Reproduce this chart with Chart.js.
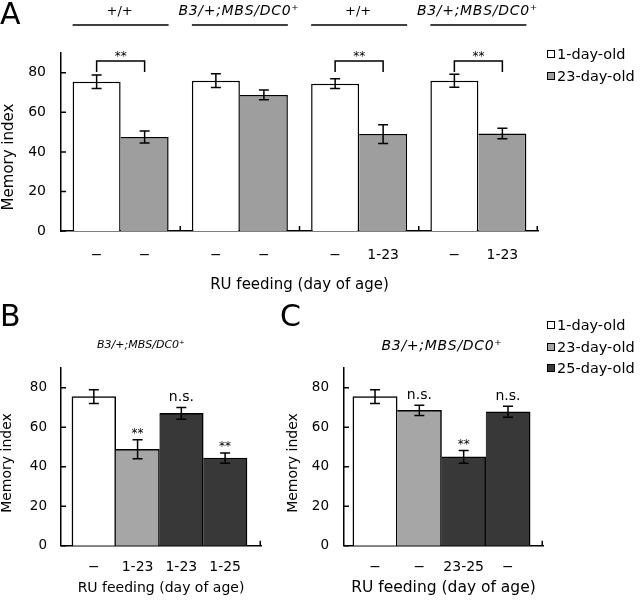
<!DOCTYPE html>
<html>
<head>
<meta charset="utf-8">
<script src="https://cdn.jsdelivr.net/npm/chart.js@4.4.1/dist/chart.umd.min.js"></script>
<style>
  body { margin: 0; background: #fff; }
  #page { position: relative; width: 640px; height: 605px; font-family: 'DejaVu Sans', sans-serif; color: #000; overflow: hidden; }
  canvas { position: absolute; }
  .txt { position: absolute; white-space: nowrap; }
  .letter { font-size: 30px; line-height: 30px; }
  .ytitle { width: 200px; text-align: center; line-height: 18px; transform: rotate(-90deg); }
  .geno { width: 200px; text-align: center; font-style: italic; }
  .row { position: absolute; display: flex; align-items: center; font-size: 14.5px; line-height: 20px; white-space: nowrap; }
  .box { width: 8px; height: 8px; border: 1.5px solid #000; box-sizing: border-box; margin-right: 2px; }
</style>
</head>
<body>
<div id="page">
  <canvas id="cA" width="640" height="300" style="left:0;top:0"></canvas>
  <canvas id="cB" width="290" height="305" style="left:0;top:300px"></canvas>
  <canvas id="cC" width="360" height="305" style="left:280px;top:300px"></canvas>

  <div class="txt letter" style="left:0;top:-1px">A</div>
  <div class="txt letter" style="left:0;top:301px">B</div>
  <div class="txt letter" style="left:280px;top:301px">C</div>

  <div class="txt ytitle" style="left:-92px;top:148px;font-size:15px">Memory index</div>
  <div class="txt ytitle" style="left:-94px;top:454px;font-size:14px">Memory index</div>
  <div class="txt ytitle" style="left:192px;top:454px;font-size:14px">Memory index</div>

  <div class="txt geno" style="left:41px;top:338px;font-size:11px;line-height:14px">B3/+;MBS/DC0⁺</div>
  <div class="txt geno" style="left:342px;top:336px;font-size:14px;line-height:18px;letter-spacing:0.7px">B3/+;MBS/DC0⁺</div>

  <div id="legA"></div>
  <div id="legC"></div>
</div>
<script>
// Panel A: four genotype / feeding groups, 1-day-old vs 23-day-old
const groupNamesA = ['+/+', 'B3/+;MBS/DC0⁺', '+/+', 'B3/+;MBS/DC0⁺'];
const feedingYoungA = ['−', '−', '−', '−'];
const feedingOldA = ['−', '−', '1-23', '1-23'];
const youngA = [75.5, 76, 74.5, 76];
const youngErrA = [3.4, 3.5, 2.5, 3.3];
const oldA = [47.5, 68.8, 49, 49.3];
const oldErrA = [3, 2.5, 4.7, 2.6];
const sigA = ['**', '', '**', '**'];

// Panel B
const feedingB = ['−', '1-23', '1-23', '1-25'];
const meanB = [75.5, 48.8, 67, 44.4];
const errB = [3.5, 4.8, 3, 2.6];
const ageB = [0, 1, 2, 2];
const markB = ['', '**', 'n.s.', '**'];

// Panel C
const feedingC = ['−', '−', '23-25', '−'];
const meanC = [75.5, 68.5, 45, 67.8];
const errC = [3.5, 2.6, 3.2, 2.8];
const ageC = [0, 1, 2, 2];
const markC = ['', 'n.s.', '**', 'n.s.'];

const ageNames = ['1-day-old', '23-day-old', '25-day-old'];

const colorsA = ['#ffffff', '#9e9e9e'];
const colorsBC = ['#ffffff', '#a6a6a6', '#383838'];

Chart.defaults.font.family = "'DejaVu Sans', sans-serif";
Chart.defaults.color = '#000';
Chart.defaults.animation = false;

// error bars, significance marks, inward ticks, group headers
const deco = {
	id: 'deco',
	afterDatasetsDraw(chart, args, opts) {
		const ctx = chart.ctx;
		const area = chart.chartArea;
		const y = chart.scales.y;
		const x = chart.scales.x;
		ctx.save();
		ctx.strokeStyle = '#000';
		ctx.fillStyle = '#000';
		ctx.lineWidth = 1.5;

		chart.data.datasets.forEach((ds, di) => {
			const meta = chart.getDatasetMeta(di);
			meta.data.forEach((bar, i) => {
				const val = meta.controller.getParsed(i).y;
				const e = ds.errors[i];
				const top = y.getPixelForValue(val + e);
				const bot = y.getPixelForValue(val - e);
				ctx.beginPath();
				ctx.moveTo(bar.x, top); ctx.lineTo(bar.x, bot);
				ctx.moveTo(bar.x - 5, top); ctx.lineTo(bar.x + 5, top);
				ctx.moveTo(bar.x - 5, bot); ctx.lineTo(bar.x + 5, bot);
				ctx.stroke();
				if (ds.marks && ds.marks[i]) {
					const m = ds.marks[i];
					ctx.font = (m == '**' ? '12px' : '14px') + " 'DejaVu Sans'";
					ctx.textAlign = 'center';
					ctx.textBaseline = 'alphabetic';
					ctx.fillText(m, bar.x, top - (m == '**' ? 3 : 6));
				}
				if (ds.feeding) {
					ctx.font = "14px 'DejaVu Sans'";
					ctx.textAlign = 'center';
					ctx.textBaseline = 'middle';
					ctx.fillText(ds.feeding[i], bar.x, area.bottom + 24);
				}
			});
		});

		// ticks pointing into the plot
		ctx.beginPath();
		y.ticks.forEach(t => {
			const py = y.getPixelForValue(t.value);
			ctx.moveTo(area.left, py); ctx.lineTo(area.left + 5, py);
		});
		(opts.xBounds || []).forEach(v => {
			const px = x.getPixelForValue(v);
			ctx.moveTo(px, area.bottom); ctx.lineTo(px, area.bottom - 5);
		});
		ctx.moveTo(area.right - 0.75, area.bottom); ctx.lineTo(area.right - 0.75, area.bottom - 5);
		ctx.stroke();

		if (opts.headers) {
			const m0 = chart.getDatasetMeta(0), m1 = chart.getDatasetMeta(1);
			chart.data.labels.forEach((name, i) => {
				const b0 = m0.data[i], b1 = m1.data[i];
				const l = b0.x - b0.width / 2, r = b1.x + b1.width / 2;
				ctx.beginPath();
				ctx.moveTo(l, area.top - 28); ctx.lineTo(r, area.top - 28);
				ctx.stroke();
				const italic = /[A-Z]/.test(name);
				ctx.font = (italic ? 'italic 14px' : '13px') + " 'DejaVu Sans'";
				ctx.letterSpacing = italic ? '0.7px' : '0px';
				ctx.textAlign = 'center';
				ctx.textBaseline = 'alphabetic';
				ctx.fillText(name, (l + r) / 2 - 1, area.top - 38);
				ctx.letterSpacing = '0px';

				if (opts.sig && opts.sig[i]) {
					const yb = area.top + 8;
					ctx.beginPath();
					ctx.moveTo(b0.x, yb + 11); ctx.lineTo(b0.x, yb);
					ctx.lineTo(b1.x, yb); ctx.lineTo(b1.x, yb + 11);
					ctx.stroke();
					ctx.font = "12px 'DejaVu Sans'";
					ctx.fillText(opts.sig[i], (b0.x + b1.x) / 2, yb - 1);
				}
			});
		}
		ctx.restore();
	}
};

function yAxis(width, size, pad) {
	return {
		min: 0, max: 90,
		afterFit: s => { s.width = width; },
		grid: { display: false },
		border: { color: '#000', width: 1.5 },
		ticks: { stepSize: 20, includeBounds: false, padding: pad, color: '#000', font: { size: size } }
	};
}

function xTitle(size, pad) {
	return { display: true, text: 'RU feeding (day of age)', color: '#000', font: { size: size }, padding: { top: 0, bottom: pad } };
}

new Chart(document.getElementById('cA'), {
	type: 'bar',
	data: {
		labels: groupNamesA,
		datasets: [{
			label: ageNames[0], data: youngA, errors: youngErrA, feeding: feedingYoungA,
			backgroundColor: colorsA[0], borderColor: '#000',
			borderWidth: { top: 1.5, left: 1.5, right: 1.5, bottom: 0 }, borderSkipped: false,
			categoryPercentage: 0.805, barPercentage: 1
		}, {
			label: ageNames[1], data: oldA, errors: oldErrA, feeding: feedingOldA,
			backgroundColor: colorsA[1], borderColor: '#000',
			borderWidth: { top: 1.5, left: 0, right: 1.5, bottom: 0 }, borderSkipped: false,
			categoryPercentage: 0.805, barPercentage: 1
		}]
	},
	options: {
		responsive: false,
		layout: { padding: { left: 0, top: 53, right: 102, bottom: 0 } },
		plugins: {
			legend: { display: false }, tooltip: { enabled: false },
			deco: { headers: true, sig: sigA, xBounds: [0.5, 1.5, 2.5] }
		},
		scales: {
			x: {
				afterFit: s => { s.height = 69; },
				grid: { display: false },
				border: { color: '#000', width: 1.5 },
				ticks: { display: false },
				title: xTitle(15, 6)
			},
			y: yAxis(61, 14, 7)
		}
	},
	plugins: [deco]
});

function smallPanel(id, feeding, means, errs, ages, marks, yWidth, padRight, lo, hi, titleSize, tickPad) {
	return new Chart(document.getElementById(id), {
		type: 'bar',
		data: {
			datasets: [{
				data: means.map((v, i) => ({ x: i + 0.5, y: v })),
				errors: errs, marks: marks,
				backgroundColor: ages.map(a => colorsBC[a]),
				borderColor: '#000',
				borderWidth: c => ({ top: 1.5, right: 1.5, bottom: 0, left: c.dataIndex == 0 ? 1.5 : 0 }),
				borderSkipped: false,
				categoryPercentage: 1, barPercentage: 1
			}]
		},
		options: {
			responsive: false,
			layout: { padding: { left: 0, top: 68, right: padRight, bottom: 0 } },
			plugins: { legend: { display: false }, tooltip: { enabled: false }, deco: {} },
			scales: {
				x: {
					type: 'linear', min: lo, max: hi, offset: false,
					afterBuildTicks: s => { s.ticks = feeding.map((_, i) => ({ value: i + 0.5 })); },
					afterFit: s => { s.height = 59.3; },
					grid: { display: false },
					border: { color: '#000', width: 1.5 },
					ticks: { autoSkip: false, maxRotation: 0, padding: 5, color: '#000', font: { size: 14 },
						callback: (v, i) => feeding[i] },
					title: xTitle(titleSize, 8)
				},
				y: yAxis(yWidth, 13.5, tickPad)
			}
		},
		plugins: [deco]
	});
}

smallPanel('cB', feedingB, meanB, errB, ageB, markB, 61, 29, -0.25, 4.32, 14, 6);
smallPanel('cC', feedingC, meanC, errC, ageC, markC, 64, 97, -0.2, 4.29, 15.5, 7);

function legend(el, count, colors, left, rowsY) {
	let out = '';
	for (let i = 0; i < count; i++) {
		out += "<div class='row' style='left:" + left + "px;top:" + (rowsY[i] - 10) + "px'>" +
			"<span class='box' style='background:" + colors[i] + "'></span>" + ageNames[i] + "</div>";
	}
	document.getElementById(el).innerHTML = out;
}
legend('legA', 2, colorsA, 547, [54, 76]);
legend('legC', 3, colorsBC, 547, [325, 346.5, 368]);
</script>
</body>
</html>
